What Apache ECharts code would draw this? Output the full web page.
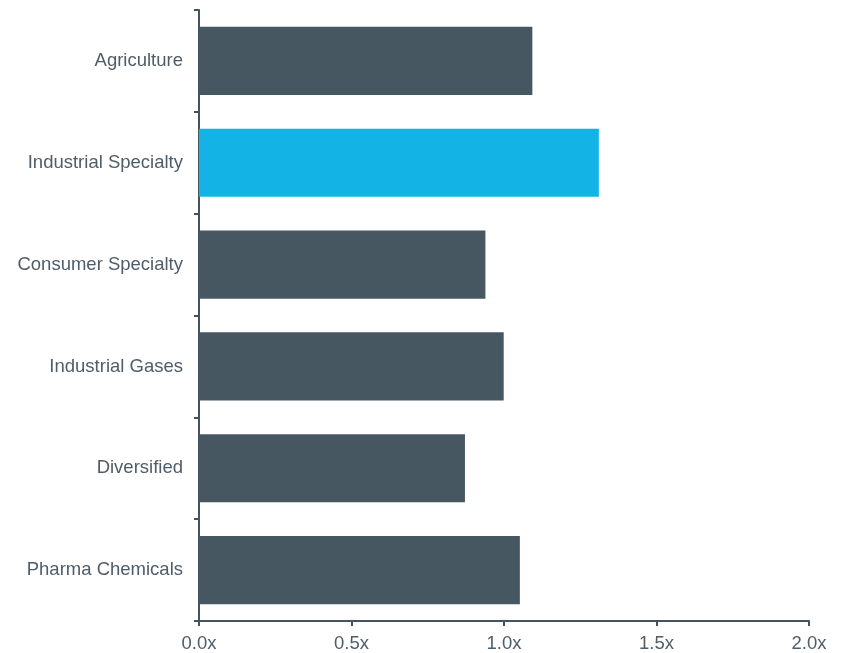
<!DOCTYPE html>
<html>
<head>
<meta charset="utf-8">
<script src="https://cdn.jsdelivr.net/npm/echarts@6/dist/echarts.min.js"></script>
<style>html,body{margin:0;padding:0;background:#fff}#c{width:844px;height:653px}</style>
</head>
<body>
<div id="c"></div>
<script>
const categories = ["Agriculture", "Industrial Specialty", "Consumer Specialty", "Industrial Gases", "Diversified", "Pharma Chemicals"];
const values = [1.093, 1.311, 0.939, 0.999, 0.872, 1.052];
const highlight = "Industrial Specialty";
const xTicks = [0, 0.5, 1.0, 1.5, 2.0];

const dark = '#465761';
const blue = '#13b3e6';
const axisColor = '#44545e';
const labelColor = '#4f5d68';

const chart = echarts.init(document.getElementById('c'), null, {renderer: 'canvas'});
chart.setOption({
  animation: false,
  grid: {left: 199, right: 35, top: 10, bottom: 30, containLabel: false},
  xAxis: {
    type: 'value', min: xTicks[0], max: xTicks[xTicks.length - 1], interval: 0.5,
    splitLine: {show: false},
    axisLine: {show: true, lineStyle: {color: axisColor, width: 2}},
    axisTick: {show: true, length: 5, lineStyle: {color: axisColor, width: 2}},
    axisLabel: {color: labelColor, fontSize: 18.5, fontFamily: 'Liberation Sans, Arial, sans-serif', margin: 13,
      formatter: v => v.toFixed(1) + 'x'}
  },
  yAxis: {
    type: 'category', data: categories, inverse: true,
    axisLine: {show: true, lineStyle: {color: axisColor, width: 2}},
    axisTick: {show: true, length: 5, lineStyle: {color: axisColor, width: 2}},
    axisLabel: {color: labelColor, fontSize: 18.5, fontFamily: 'Liberation Sans, Arial, sans-serif', margin: 16}
  },
  series: [{
    type: 'bar',
    barCategoryGap: '33%',
    data: values.map((v, i) => ({value: v, itemStyle: {color: categories[i] === highlight ? blue : dark}}))
  }]
});
</script>
</body>
</html>
